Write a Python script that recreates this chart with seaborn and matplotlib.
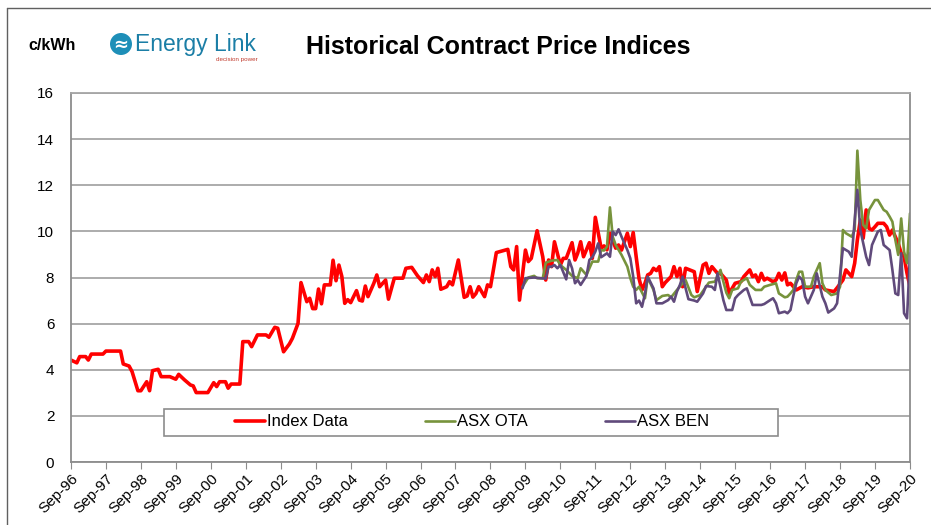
import numpy as np
import pandas as pd
import seaborn as sns
import matplotlib.pyplot as plt
from matplotlib.patches import Ellipse, Rectangle
from matplotlib.lines import Line2D

# values (c/kWh)
idx_dates = ['1996-09', '1996-11', '1996-12', '1997-02', '1997-03', '1997-04', '1997-08', '1997-09',
             '1998-02', '1998-03', '1998-05', '1998-06', '1998-08', '1998-09', '1998-11', '1998-12',
             '1999-01', '1999-03', '1999-04', '1999-07', '1999-09', '1999-10', '1999-12',
             '2000-02', '2000-03', '2000-04', '2000-08', '2000-10', '2000-11', '2000-12',
             '2001-02', '2001-03', '2001-04', '2001-07', '2001-08', '2001-10', '2001-11',
             '2002-01', '2002-04', '2002-05', '2002-07', '2002-08', '2002-10', '2002-12',
             '2003-01', '2003-03', '2003-04', '2003-06', '2003-07', '2003-08', '2003-09', '2003-10',
             '2003-11', '2003-12', '2004-02', '2004-03', '2004-04', '2004-05', '2004-06', '2004-07',
             '2004-08', '2004-09', '2004-11', '2004-12', '2005-01', '2005-02', '2005-03', '2005-05',
             '2005-06', '2005-07', '2005-09', '2005-10', '2005-12', '2006-03', '2006-04', '2006-06',
             '2006-08', '2006-10', '2006-11', '2006-12', '2007-01', '2007-02', '2007-03', '2007-04',
             '2007-06', '2007-07', '2007-08', '2007-10', '2007-12', '2008-01', '2008-02', '2008-03',
             '2008-04', '2008-05', '2008-07', '2008-08', '2008-09', '2008-11', '2009-03', '2009-04',
             '2009-05', '2009-06', '2009-07', '2009-09', '2009-10', '2009-11', '2010-01', '2010-03',
             '2010-04', '2010-05', '2010-06', '2010-07', '2010-09', '2010-10', '2010-11', '2011-01',
             '2011-02', '2011-03', '2011-04', '2011-05', '2011-07', '2011-08', '2011-09', '2011-11',
             '2011-12', '2012-01', '2012-02', '2012-04', '2012-05', '2012-06', '2012-08', '2012-09',
             '2012-10', '2012-11', '2012-12', '2013-01', '2013-02', '2013-03', '2013-04', '2013-05',
             '2013-06', '2013-07', '2013-08', '2013-09', '2013-11', '2013-12', '2014-01', '2014-02',
             '2014-03', '2014-04', '2014-07', '2014-08', '2014-10', '2014-11', '2014-12', '2015-01',
             '2015-03', '2015-04', '2015-06', '2015-07', '2015-09', '2015-11', '2015-12', '2016-02',
             '2016-03', '2016-04', '2016-05', '2016-06', '2016-07', '2016-08', '2016-10', '2016-11',
             '2016-12', '2017-01', '2017-02', '2017-03', '2017-04', '2017-06', '2017-07', '2017-08',
             '2017-10', '2017-12', '2018-03', '2018-04', '2018-07', '2018-08', '2018-10', '2018-11',
             '2019-01', '2019-02', '2019-03', '2019-04', '2019-05', '2019-06', '2019-07', '2019-08',
             '2019-09', '2019-10', '2019-12', '2020-01', '2020-02', '2020-03', '2020-05', '2020-06',
             '2020-07', '2020-08', '2020-09']
idx_vals = [4.42, 4.30, 4.57, 4.57, 4.42, 4.68, 4.68, 4.81,
            4.81, 4.25, 4.16, 3.92, 3.09, 3.09, 3.48, 3.09,
            3.96, 4.02, 3.70, 3.70, 3.59, 3.80, 3.56,
            3.34, 3.30, 3.01, 3.01, 3.44, 3.27, 3.48,
            3.48, 3.20, 3.38, 3.38, 5.22, 5.22, 5.00,
            5.51, 5.51, 5.41, 5.84, 5.80, 4.78, 5.12,
            5.36, 6.01, 7.78, 6.95, 7.10, 6.65, 6.65, 7.50,
            6.86, 7.68, 7.68, 8.75, 7.86, 8.54, 8.04, 6.88,
            7.04, 6.91, 7.43, 7.02, 6.98, 7.63, 7.17, 7.75,
            8.11, 7.60, 7.89, 7.06, 7.97, 7.97, 8.40, 8.44,
            8.07, 7.78, 8.11, 7.82, 8.33, 8.04, 8.40, 7.49,
            7.60, 7.82, 7.68, 8.76, 7.14, 7.20, 7.60, 7.15,
            7.30, 7.60, 7.17, 7.68, 7.60, 9.08, 9.22, 8.47,
            8.33, 9.34, 7.02, 9.19, 8.69, 8.83, 10.03, 8.90,
            7.89, 8.76, 8.47, 9.55, 8.54, 8.83, 8.83, 9.51,
            8.76, 9.05, 9.55, 8.90, 9.51, 8.83, 10.61, 9.27,
            9.37, 9.20, 9.92, 9.27, 9.41, 9.19, 9.92, 9.34,
            9.95, 8.90, 7.95, 7.46, 7.75, 8.11, 8.18, 8.40,
            8.30, 8.47, 7.60, 7.78, 8.04, 8.47, 8.04, 8.40,
            7.60, 8.40, 8.25, 7.39, 8.54, 8.62, 8.18, 8.47,
            8.18, 8.18, 7.89, 7.31, 7.75, 7.82, 8.04, 8.33,
            8.04, 8.11, 7.82, 8.18, 7.89, 7.97, 7.82, 7.89,
            8.18, 7.89, 8.20, 7.68, 7.75, 7.46, 7.53, 7.60,
            7.55, 7.60, 7.60, 7.46, 7.39, 7.55, 7.89, 8.33,
            8.04, 8.62, 9.63, 10.49, 9.70, 10.93, 10.13, 10.06,
            10.20, 10.35, 10.35, 10.20, 9.84, 10.06, 9.48, 9.05,
            8.90, 8.18, 7.60]

ota_dates = ['2009-08', '2009-10', '2009-12', '2010-01', '2010-03', '2010-04', '2010-06', '2010-08',
             '2010-09', '2010-11', '2011-01', '2011-03', '2011-04', '2011-06', '2011-08', '2011-10',
             '2011-11', '2011-12', '2012-01', '2012-02', '2012-03', '2012-04', '2012-06', '2012-08',
             '2012-09', '2012-10', '2012-11', '2012-12', '2013-02', '2013-03', '2013-05', '2013-06',
             '2013-08', '2013-10', '2013-11', '2014-01', '2014-03', '2014-04', '2014-06', '2014-07',
             '2014-09', '2014-11', '2014-12', '2015-02', '2015-04', '2015-05', '2015-06', '2015-07',
             '2015-08', '2015-10', '2015-11', '2016-01', '2016-02', '2016-04', '2016-06', '2016-07',
             '2016-09', '2016-11', '2016-12', '2017-02', '2017-03', '2017-04', '2017-05', '2017-06',
             '2017-07', '2017-08', '2017-09', '2017-11', '2017-12', '2018-02', '2018-03', '2018-04',
             '2018-06', '2018-08', '2018-09', '2018-10', '2018-11', '2019-01', '2019-02', '2019-03',
             '2019-04', '2019-05', '2019-06', '2019-07', '2019-09', '2019-10', '2019-12', '2020-01',
             '2020-02', '2020-03', '2020-04', '2020-05', '2020-06', '2020-07', '2020-08', '2020-09']
ota_vals = [7.60, 8.00, 8.07, 7.97, 7.97, 8.64, 8.73, 8.76,
            8.54, 8.33, 8.07, 7.97, 8.40, 8.11, 8.69, 8.69,
            9.19, 9.17, 9.34, 11.04, 9.77, 9.41, 8.98, 8.47,
            7.97, 7.60, 7.46, 7.60, 7.10, 8.00, 7.46, 7.02,
            7.20, 7.24, 7.14, 7.46, 7.75, 7.89, 7.24, 7.14,
            7.24, 7.60, 7.78, 7.82, 8.33, 7.82, 7.34, 7.10,
            7.46, 7.53, 7.82, 7.97, 7.68, 7.46, 7.46, 7.60,
            7.68, 7.75, 7.31, 7.14, 7.17, 7.31, 7.46, 7.90,
            8.25, 8.25, 7.60, 7.60, 8.04, 8.62, 7.75, 7.46,
            7.24, 7.31, 7.60, 10.06, 9.92, 9.77, 10.06, 13.50,
            11.36, 10.28, 10.13, 10.93, 11.36, 11.36, 10.93, 10.85,
            10.64, 10.42, 9.63, 8.98, 10.56, 9.12, 8.62, 10.78]

ben_dates = ['2009-08', '2009-09', '2009-12', '2010-02', '2010-04', '2010-05', '2010-06', '2010-07',
             '2010-08', '2010-09', '2010-11', '2010-12', '2011-01', '2011-02', '2011-03', '2011-04',
             '2011-06', '2011-07', '2011-08', '2011-09', '2011-10', '2011-11', '2012-01', '2012-02',
             '2012-03', '2012-04', '2012-05', '2012-06', '2012-08', '2012-09', '2012-10', '2012-11',
             '2012-12', '2013-01', '2013-02', '2013-03', '2013-05', '2013-06', '2013-08', '2013-10',
             '2013-11', '2013-12', '2014-01', '2014-02', '2014-03', '2014-05', '2014-07', '2014-08',
             '2014-10', '2014-11', '2015-01', '2015-02', '2015-03', '2015-05', '2015-06', '2015-08',
             '2015-09', '2015-10', '2015-12', '2016-01', '2016-03', '2016-04', '2016-06', '2016-07',
             '2016-09', '2016-10', '2016-11', '2016-12', '2017-02', '2017-03', '2017-04', '2017-05',
             '2017-06', '2017-07', '2017-08', '2017-09', '2017-10', '2017-12', '2018-01', '2018-03',
             '2018-04', '2018-05', '2018-07', '2018-08', '2018-10', '2018-12', '2019-01', '2019-02',
             '2019-03', '2019-04', '2019-06', '2019-07', '2019-08', '2019-10', '2019-11', '2019-12',
             '2020-02', '2020-03', '2020-04', '2020-05', '2020-06', '2020-07', '2020-08', '2020-09']
ben_vals = [7.53, 7.97, 8.00, 7.97, 7.95, 8.47, 8.47, 8.54,
            8.40, 8.54, 7.92, 8.76, 8.40, 7.75, 7.89, 7.68,
            8.07, 8.76, 8.88, 9.12, 9.48, 8.88, 9.05, 8.90,
            9.99, 9.84, 10.09, 9.77, 9.19, 8.83, 8.04, 6.88,
            7.00, 6.73, 7.30, 8.04, 7.53, 6.88, 6.88, 7.02,
            7.17, 6.95, 7.39, 7.68, 8.04, 7.06, 7.00, 6.95,
            7.31, 7.63, 7.60, 7.46, 8.18, 7.02, 6.59, 6.59,
            7.10, 7.24, 7.46, 7.53, 6.81, 6.81, 6.81, 6.85,
            7.02, 7.10, 6.88, 6.45, 6.52, 6.45, 6.59, 7.20,
            7.75, 8.04, 7.89, 7.17, 6.88, 7.46, 8.18, 7.17,
            6.88, 6.48, 6.66, 6.88, 9.27, 9.12, 8.90, 10.49,
            11.80, 10.06, 8.90, 8.54, 9.41, 9.99, 10.06, 9.41,
            9.19, 8.33, 7.31, 7.24, 9.05, 6.45, 6.23, 9.05]

series_names = ['Index Data', 'ASX OTA', 'ASX BEN']
series_colors = ['#ff0000', '#77933c', '#604a7b']
series_widths = [2.6, 1.9, 1.9]
y_ticks = [0, 2, 4, 6, 8, 10, 12, 14, 16]
tick_labels = ['Sep-96', 'Sep-97', 'Sep-98', 'Sep-99', 'Sep-00', 'Sep-01', 'Sep-02', 'Sep-03',
               'Sep-04', 'Sep-05', 'Sep-06', 'Sep-07', 'Sep-08', 'Sep-09', 'Sep-10', 'Sep-11',
               'Sep-12', 'Sep-13', 'Sep-14', 'Sep-15', 'Sep-16', 'Sep-17', 'Sep-18', 'Sep-19',
               'Sep-20']

frames = []
for name, d, v in zip(series_names, [idx_dates, ota_dates, ben_dates], [idx_vals, ota_vals, ben_vals]):
    frames.append(pd.DataFrame({'date': pd.to_datetime(d), 'value': v, 'series': name}))
df = pd.concat(frames, ignore_index=True)

sns.set_style('white')
plt.rcParams['font.family'] = ['Liberation Sans', 'DejaVu Sans']
plt.rcParams['text.color'] = 'black'
plt.rcParams['xtick.labelcolor'] = 'black'
plt.rcParams['ytick.labelcolor'] = 'black'

W, H = 931, 525
fig = plt.figure(figsize=(W / 100, H / 100), dpi=100)
ax = fig.add_axes([71 / W, 63 / H, 839 / W, 369 / H])

for name, col, lw in zip(series_names, series_colors, series_widths):
    sns.lineplot(data=df[df.series == name], x='date', y='value', color=col,
                 linewidth=lw, label=name, ax=ax)

tick_dates = pd.to_datetime(tick_labels, format='%b-%y')
ax.set_xlim(tick_dates[0], tick_dates[-1])
ax.set_xticks(tick_dates)
ax.set_xticklabels(tick_labels, rotation=45, ha='right', rotation_mode='anchor', fontsize=11)
ax.set_ylim(0, 16)
ax.set_yticks(y_ticks)
ax.set_yticklabels([str(t) for t in y_ticks], fontsize=11)
ax.set_xlabel('')
ax.set_ylabel('')

ax.yaxis.grid(True, color='#a6a6a6', linewidth=1.3)
ax.xaxis.grid(False)
ax.set_axisbelow(True)
for s in ax.spines.values():
    s.set_color('#8c8c8c')
    s.set_linewidth(1.3)
ax.spines['top'].set_color('#a6a6a6')
ax.tick_params(axis='x', direction='out', length=5, color='#8c8c8c', pad=2, bottom=True)
ax.tick_params(axis='y', length=0, pad=12)

# legend box
ax.add_patch(Rectangle((164 / W, 1 - 436 / H), 614 / W, 27 / H, transform=fig.transFigure,
                       facecolor='white', edgecolor='#8c8c8c', linewidth=1.2, zorder=4,
                       clip_on=False))
leg = ax.legend(loc='center', bbox_to_anchor=(472 / W, 1 - 422 / H), bbox_transform=fig.transFigure,
                ncol=3, frameon=False, handlelength=1.8, handletextpad=0.15,
                columnspacing=4.6, fontsize=12)
leg.set_zorder(5)

# header
fig.text(28 / W, 1 - 45 / H, 'c/kWh', fontsize=11.5, fontweight='bold', va='center', ha='left')
fig.add_artist(Ellipse((121 / W, 1 - 44 / H), 22 / W, 22 / H, transform=fig.transFigure,
                       facecolor='#1e8fb8', edgecolor='none'))
fig.text(121 / W, 1 - 45 / H, '≈', fontsize=13, color='white', ha='center', va='center',
         fontweight='bold', family=['DejaVu Sans'])
fig.text(135 / W, 1 - 45 / H, 'Energy Link', fontsize=16.5, color='#1b7ea6', ha='left', va='center')
fig.text(258 / W, 1 - 60 / H, 'decision power', fontsize=4.5, color='#c0392b', ha='right', va='center')
fig.text(498 / W, 1 - 47 / H, 'Historical Contract Price Indices', fontsize=18, fontweight='bold',
         ha='center', va='center', color='black')

# outer frame
fig.add_artist(Line2D([7 / W, 1], [1 - 8 / H, 1 - 8 / H], transform=fig.transFigure,
                      color='#606060', linewidth=1))
fig.add_artist(Line2D([7 / W, 7 / W], [0, 1 - 8 / H], transform=fig.transFigure,
                      color='#606060', linewidth=1))

fig.savefig('out.png', dpi=100)
